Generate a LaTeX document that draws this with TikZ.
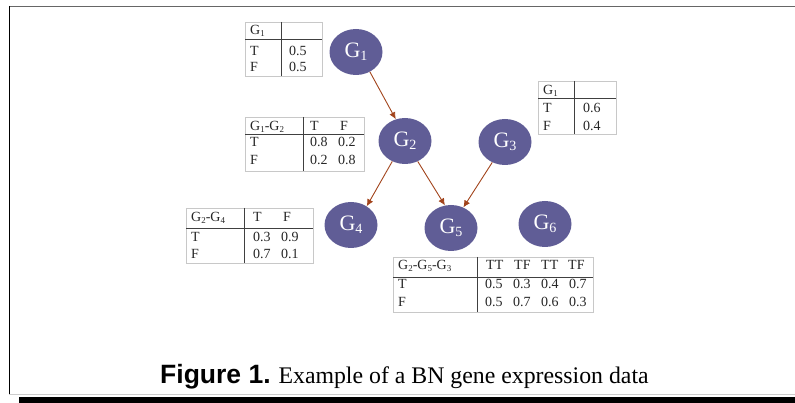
\documentclass[tikz,border=0pt]{standalone}
\usepackage{fontspec}
\setmainfont{Liberation Serif}
\newfontfamily\capsans{Liberation Sans}
\usetikzlibrary{shapes.geometric}
\usetikzlibrary{arrows.meta}
\definecolor[named]{GeneBlue}{HTML}{605D96}
\definecolor[named]{EdgeBrown}{HTML}{A2441C}
\definecolor[named]{RuleGray}{HTML}{C8C8C8}
\newcommand{\gsub}[1]{G\raisebox{-0.3ex}{\scalebox{0.64}{#1}}}
\tikzset{
  gene/.style={ellipse,fill=GeneBlue,text=white,inner sep=0pt,
    minimum width=53pt,minimum height=46pt,
    font=\fontsize{22}{24}\selectfont},
  edge/.style={EdgeBrown,line width=0.9pt,
    -{Latex[length=7pt,width=6.5pt]}},
  cptbox/.style={RuleGray,line width=0.8pt},
  cptrule/.style={black!75,line width=0.8pt},
  cell/.style={anchor=base west,inner sep=0pt,text=black!85,
    font=\fontsize{14}{16}\selectfont}
}

\begin{document}
\begin{tikzpicture}[x=1pt,y=-1pt]
  \useasboundingbox (0,0) rectangle (795,403);
  % frame
  \draw[black!60,line width=1.6pt] (9,6.5) -- (795,6.5);
  \draw[black,line width=1.2pt] (9.5,6) -- (9.5,394);
  \draw[black!20,line width=0.8pt] (9,394) -- (795,394);
  \fill[black] (19,397) rectangle (795,403);

  % genes
  \node[gene] (g1) at (356,52) {\gsub{1}};
  \node[gene] (g2) at (405,141) {\gsub{2}};
  \node[gene] (g3) at (505,142) {\gsub{3}};
  \node[gene] (g4) at (351,225) {\gsub{4}};
  \node[gene] (g5) at (451,228) {\gsub{5}};
  \node[gene] (g6) at (545,224) {\gsub{6}};
  \draw[edge] (g1.305) -- (g2.113);
  \draw[edge] (g2.238) -- (g4.50);
  \draw[edge] (g2.302) -- (g5.105);
  \draw[edge] (g3.238) -- (g5.59);

  % table for G1
  \draw[cptbox] (245,22) rectangle (322,76);
  \draw[cptrule] (245,39) -- (322,39) (281,22) -- (281,76);
  \node[cell] (ah) at (250,35) {\gsub{1}};
  \node[cell] (at) at (250,56) {T};
  \node[cell] (atv) at (289,56) {0.5};
  \node[cell] (af) at (250,72) {F};
  \node[cell] (afv) at (289,72) {0.5};

  % table G1-G2
  \draw[cptbox] (245,117) rectangle (364,171);
  \draw[cptrule] (245,134) -- (364,134) (303,117) -- (303,171);
  \node[cell] (bh) at (250,131) {\gsub{1}-\gsub{2}};
  \node[cell] (bht) at (310,131) {T};
  \node[cell] (bhf) at (340,131) {F};
  \node[cell] (bt) at (250,147) {T};
  \node[cell] (bt1) at (310,147) {0.8};
  \node[cell] (bt2) at (338,147) {0.2};
  \node[cell] (bf) at (250,165) {F};
  \node[cell] (bf1) at (310,165) {0.2};
  \node[cell] (bf2) at (338,165) {0.8};

  % table G2-G4
  \draw[cptbox] (186,208) rectangle (313,263);
  \draw[cptrule] (186,228) -- (313,228) (244,208) -- (244,263);
  \node[cell] (ch) at (191,222) {\gsub{2}-\gsub{4}};
  \node[cell] (cht) at (253,222) {T};
  \node[cell] (chf) at (283,222) {F};
  \node[cell] (ct) at (191,242) {T};
  \node[cell] (ct1) at (253,242) {0.3};
  \node[cell] (ct2) at (281,242) {0.9};
  \node[cell] (cf) at (191,259) {F};
  \node[cell] (cf1) at (253,259) {0.7};
  \node[cell] (cf2) at (281,259) {0.1};

  % table G2-G5-G3
  \draw[cptbox] (393,257) rectangle (593,312);
  \draw[cptrule] (393,277) -- (593,277) (477,257) -- (477,312);
  \node[cell] (dh) at (398,270) {\gsub{2}-\gsub{5}-\gsub{3}};
  \node[cell] (dh1) at (486,270) {TT};
  \node[cell] (dh2) at (514,270) {TF};
  \node[cell] (dh3) at (541,270) {TT};
  \node[cell] (dh4) at (568,270) {TF};
  \node[cell] (dt) at (398,289) {T};
  \node[cell] (dt1) at (485,289) {0.5};
  \node[cell] (dt2) at (513,289) {0.3};
  \node[cell] (dt3) at (541,289) {0.4};
  \node[cell] (dt4) at (569,289) {0.7};
  \node[cell] (df) at (398,307) {F};
  \node[cell] (df1) at (485,307) {0.5};
  \node[cell] (df2) at (513,307) {0.7};
  \node[cell] (df3) at (541,307) {0.6};
  \node[cell] (df4) at (569,307) {0.3};

  % table by G3
  \draw[cptbox] (538,81) rectangle (616,134);
  \draw[cptrule] (538,98) -- (616,98) (574,81) -- (574,134);
  \node[cell] (eh) at (543,95) {\gsub{1}};
  \node[cell] (et) at (543,113) {T};
  \node[cell] (etv) at (583,113) {0.6};
  \node[cell] (ef) at (543,131) {F};
  \node[cell] (efv) at (583,131) {0.4};

  % caption
  \node[anchor=base west,inner sep=0pt,font=\fontsize{23.8}{26}\selectfont]
    (cap) at (160,383)
    {{\capsans\bfseries\fontsize{26.5}{28}\selectfont Figure 1.} Example of a BN gene expression data};
\end{tikzpicture}
\end{document}
